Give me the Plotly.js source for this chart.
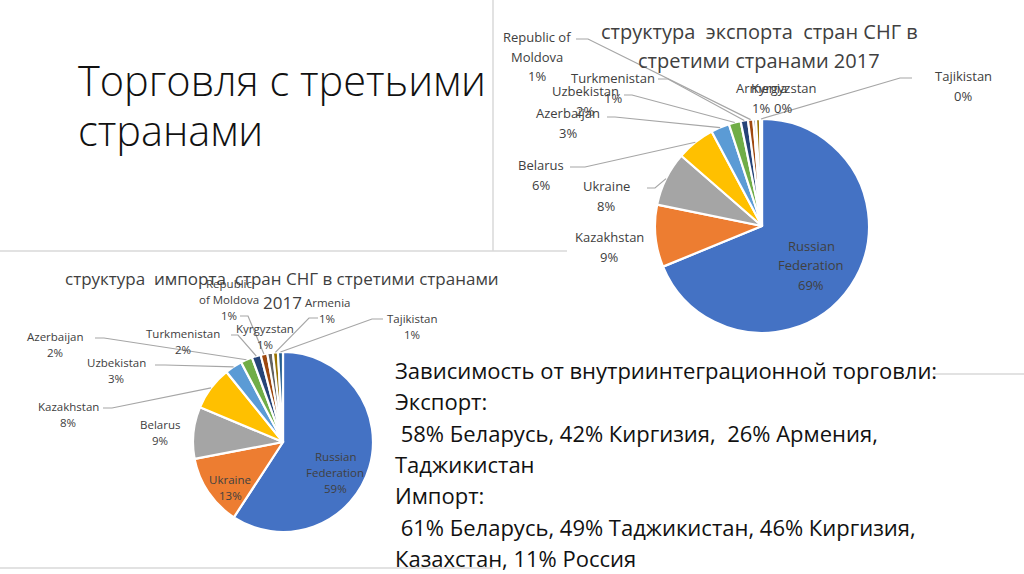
<!DOCTYPE html>
<html>
<head>
<meta charset="utf-8">
<script src="https://cdn.plot.ly/plotly-3.0.1.min.js"></script>
<style>html,body{margin:0;padding:0;background:#fff;}#chart{width:1024px;height:574px;}</style>
</head>
<body>
<div id="chart"></div>
<script>
// ---------- DATA ----------
const slideTitle = ['Торговля с третьими', 'странами'];
const exportTitle = ['структура  экспорта  стран СНГ в', 'стретими странами 2017'];
const importTitle = ['структура  импорта  стран СНГ в стретими странами', '2017'];

const exportCountries = ['Russian Federation', 'Kazakhstan', 'Ukraine', 'Belarus', 'Azerbaijan', 'Uzbekistan',
  'Turkmenistan', 'Republic of Moldova', 'Kyrgyzstan', 'Armenia', 'Tajikistan'];
const exportValues = [68.8, 9.4, 8.2, 5.8, 2.8, 1.8, 1.1, 0.8, 0.4, 0.6, 0.3];

const importCountries = ['Russian Federation', 'Ukraine', 'Belarus', 'Kazakhstan', 'Uzbekistan', 'Azerbaijan',
  'Turkmenistan', 'Republic of Moldova', 'Kyrgyzstan', 'Armenia', 'Tajikistan'];
const importValues = [59.2, 12.8, 9.3, 7.9, 3.1, 2.1, 1.6, 1.2, 1.0, 0.9, 0.9];

const bodyLines = [
  'Зависимость от внутриинтеграционной торговли:',
  'Экспорт:',
  ' 58% Беларусь, 42% Киргизия,  26% Армения,',
  'Таджикистан',
  'Импорт:',
  ' 61% Беларусь, 49% Таджикистан, 46% Киргизия,',
  'Казахстан, 11% Россия'
];

// ---------- STYLE / LAYOUT ----------
const W = 1024, H = 574;
const FONT = "'Open Sans', 'Noto Sans', 'DejaVu Sans', sans-serif";
const palette = ['#4472C4', '#ED7D31', '#A5A5A5', '#FFC000', '#5B9BD5', '#70AD47',
  '#264478', '#9E480E', '#636363', '#997300', '#255E91'];

const exportPie = {cx: 762, cy: 226, r: 107};
const importPie = {cx: 283, cy: 442, r: 90};

// label boxes: centre (x,y) in px, break after n words, leader start & elbow (px)
const exportLabelPos = [
  {x: 811, y: 265, wrap: 1},
  {x: 609, y: 247},
  {x: 606, y: 196, lead: [[647, 188], [655, 188]]},
  {x: 541, y: 175, lead: [[570, 167], [585, 167]]},
  {x: 568, y: 123, lead: [[607, 117], [615, 117]]},
  {x: 585, y: 101, lead: [[624, 95], [632, 95]]},
  {x: 613, y: 88, lead: [[658, 79], [668, 79]]},
  {x: 537, y: 57, wrap: 2, lead: [[576, 39], [588, 39]]},
  {x: 783, y: 98},
  {x: 761, y: 98},
  {x: 963, y: 86, lead: [[912, 78], [900, 78]]}
];
const importLabelPos = [
  {x: 335, y: 472, wrap: 1},
  {x: 230, y: 487},
  {x: 160, y: 432},
  {x: 68, y: 414, lead: [[103, 408], [112, 408]]},
  {x: 116, y: 370, lead: [[155, 365], [165, 365]]},
  {x: 55, y: 344, lead: [[95, 338], [104, 338]]},
  {x: 183, y: 341, lead: [[231, 335], [238, 335]]},
  {x: 229, y: 299, wrap: 1, lead: [[240, 316], [248, 316]]},
  {x: 265, y: 336},
  {x: 327, y: 310, lead: [[318, 318], [309, 318]]},
  {x: 412, y: 326, lead: [[383, 319], [372, 319]]}
];

const px = x => x / W;
const py = y => 1 - y / H;

function domainOf(p) {
  return {x: [px(p.cx - p.r), px(p.cx + p.r)], y: [py(p.cy + p.r), py(p.cy - p.r)]};
}

function pieTrace(labels, values, colors, p) {
  return {
    type: 'pie', labels: labels, values: values, sort: false, direction: 'clockwise', rotation: 0,
    textinfo: 'none', hoverinfo: 'label+percent',
    marker: {colors: colors, line: {color: '#ffffff', width: 2.2}},
    domain: domainOf(p), showlegend: false
  };
}

function wrapLines(name, n) {
  if (!n) return [name];
  const w = name.split(' ');
  return [w.slice(0, n).join(' '), w.slice(n).join(' ')];
}

const annotations = [];
const shapes = [];

function addLabels(labels, values, pos, p, fontSize, lineGap) {
  const total = values.reduce((a, b) => a + b, 0);
  let cum = 0;
  labels.forEach((lab, i) => {
    const frac = values[i] / total;
    const mid = (cum + frac / 2) * 2 * Math.PI;
    cum += frac;
    const q = pos[i];
    const lines = wrapLines(lab, q.wrap).concat([Math.round(frac * 100) + '%']);
    lines.forEach((t, k) => {
      annotations.push({
        xref: 'paper', yref: 'paper', x: px(q.x), y: py(q.y + (k - (lines.length - 1) / 2) * lineGap),
        xanchor: 'center', yanchor: 'middle', showarrow: false, text: t,
        font: {family: FONT, size: fontSize, color: '#404040'}
      });
    });
    if (q.lead) {
      const ex = p.cx + p.r * Math.sin(mid);
      const ey = p.cy - p.r * Math.cos(mid);
      const path = 'M' + px(q.lead[0][0]) + ',' + py(q.lead[0][1]) +
        ' L' + px(q.lead[1][0]) + ',' + py(q.lead[1][1]) +
        ' L' + px(ex) + ',' + py(ey);
      shapes.push({type: 'path', xref: 'paper', yref: 'paper', path: path,
        line: {color: '#a6a6a6', width: 1.2}});
    }
  });
}

addLabels(exportCountries, exportValues, exportLabelPos, exportPie, 13, 19.5);
addLabels(importCountries, importValues, importLabelPos, importPie, 11.5, 16);

// frame lines of the slide boxes
[[493, 0, 493, 251], [0, 251, 567, 251], [933, 374, 1024, 374], [0, 568, 493, 568]].forEach(l => {
  shapes.push({type: 'line', xref: 'paper', yref: 'paper', x0: px(l[0]), y0: py(l[1]), x1: px(l[2]), y1: py(l[3]),
    line: {color: '#d9d9d9', width: 1.5}, layer: 'below'});
});

// slide title
slideTitle.forEach((t, i) => annotations.push({
  xref: 'paper', yref: 'paper', x: px(76), y: py(80 + i * 50), xanchor: 'left', yanchor: 'middle',
  showarrow: false, text: t, font: {family: FONT, size: 41.5, weight: 300, color: '#111111'}
}));
// chart titles
exportTitle.forEach((t, i) => annotations.push({
  xref: 'paper', yref: 'paper', x: px(759), y: py(32 + i * 28), xanchor: 'center', yanchor: 'middle',
  showarrow: false, text: t.replace(/ /g, '&nbsp;'), font: {family: FONT, size: 20, color: '#404040'}
}));
importTitle.forEach((t, i) => annotations.push({
  xref: 'paper', yref: 'paper', x: px(282), y: py(278 + i * 24), xanchor: 'center', yanchor: 'middle',
  showarrow: false, text: t.replace(/ /g, '&nbsp;'), font: {family: FONT, size: 17, color: '#404040'}
}));
// body text
bodyLines.forEach((t, i) => annotations.push({
  xref: 'paper', yref: 'paper', x: px(393), y: py(370 + i * 31.3), xanchor: 'left', yanchor: 'middle',
  showarrow: false, text: t.replace(/ /g, '&nbsp;'), font: {family: FONT, size: 22, color: '#111111'}
}));

const data = [
  pieTrace(exportCountries, exportValues, palette, exportPie),
  pieTrace(importCountries, importValues, palette, importPie)
];

const layout = {
  width: W, height: H, margin: {l: 0, r: 0, t: 0, b: 0},
  paper_bgcolor: '#ffffff', plot_bgcolor: '#ffffff',
  showlegend: false, annotations: annotations, shapes: shapes,
  font: {family: FONT}
};

Plotly.newPlot('chart', data, layout, {displayModeBar: false, staticPlot: true});
</script>
</body>
</html>
